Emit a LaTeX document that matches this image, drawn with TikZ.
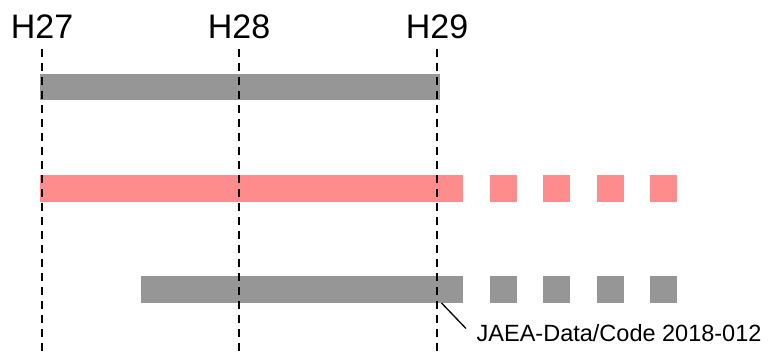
\documentclass[tikz,border=0pt]{standalone}
\usepackage{fontspec}
\setmainfont{Liberation Sans}
\begin{document}
\begin{tikzpicture}[x=1pt,y=-1pt,
  greybar/.style={fill={rgb,255:red,150;green,150;blue,150}, draw=none},
  pinkbar/.style={fill={rgb,255:red,255;green,140;blue,140}, draw=none},
  yearline/.style={black, line width=2pt, dash pattern=on 8pt off 6pt},
  yearlabel/.style={font=\fontsize{34}{34}\selectfont, anchor=base, inner sep=0pt},
  leader/.style={black, line width=1.3pt}]
\useasboundingbox (0,0) rectangle (769,355);

% first bar: solid from H27 to H29
\fill[greybar] (40,74) rectangle (440,100.5);

% second bar: solid, then dashed continuation
\fill[pinkbar] (40,175) rectangle (463,202);
\foreach \x in {490,543.3,596.7,650}
  \fill[pinkbar] (\x,175) rectangle ++(27,27);

% third bar: solid, then dashed continuation
\fill[greybar] (141,276) rectangle (463,302.7);
\foreach \x in {490,543.3,596.7,650}
  \fill[greybar] (\x,276) rectangle ++(27,26.7);

% fiscal-year labels and guide lines
\node[yearlabel] (h27) at (42,39) {H27};
\node[yearlabel] (h28) at (239,39) {H28};
\node[yearlabel] (h29) at (437,39) {H29};
\coordinate (b27) at (42,352);
\coordinate (b28) at (239,352);
\coordinate (b29) at (436.5,352);
\draw[yearline] (42,49) -- (b27);
\draw[yearline] (239,49) -- (b28);
\draw[yearline] (436.5,49) -- (b29);

% report reference
\node[anchor=base west, inner sep=0pt, font=\fontsize{23.5}{23.5}\selectfont] (ref) at (476.5,342) {JAEA-Data/Code 2018-012};
\coordinate (tip) at (441.5,303);
\draw[leader] (tip) -- (466,328.5);
\end{tikzpicture}
\end{document}
